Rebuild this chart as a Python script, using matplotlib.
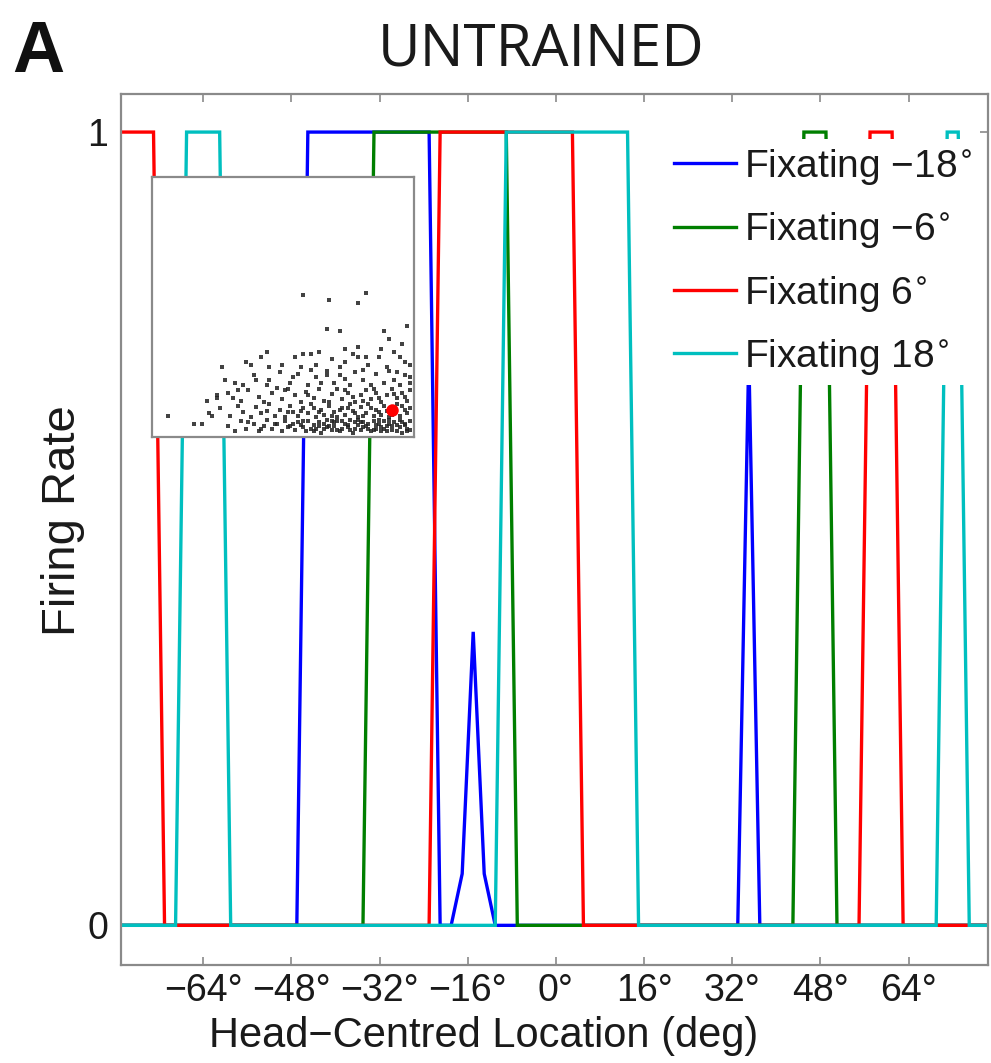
import numpy as np
import matplotlib
matplotlib.use("Agg")
import matplotlib.pyplot as plt

plt.rcParams['font.family'] = ['Liberation Sans', 'DejaVu Sans']

# ---------------- data ----------------
# head-centred locations (deg), sampled every 2 deg
locations = list(range(-79, 80, 2))

fix_m18 = [0, 0, 0, 0, 0, 0, 0, 0, 0, 0,
           0, 0, 0, 0, 0, 0, 0, 1, 1, 1,
           1, 1, 1, 1, 1, 1, 1, 1, 1, 0,
           0, 0.065, 0.37, 0.065, 0, 0, 0, 0, 0, 0,
           0, 0, 0, 0, 0, 0, 0, 0, 0, 0,
           0, 0, 0, 0, 0, 0, 0, 0.72, 0, 0,
           0, 0, 0, 0, 0, 0, 0, 0, 0, 0,
           0, 0, 0, 0, 0, 0, 0, 0, 0, 0]

fix_m6 = [0, 0, 0, 0, 0, 0, 0, 0, 0, 0,
          0, 0, 0, 0, 0, 0, 0, 0, 0, 0,
          0, 0, 0, 1, 1, 1, 1, 1, 1, 1,
          1, 1, 1, 1, 1, 1, 0, 0, 0, 0,
          0, 0, 0, 0, 0, 0, 0, 0, 0, 0,
          0, 0, 0, 0, 0, 0, 0, 0, 0, 0,
          0, 0, 1, 1, 1, 0, 0, 0, 0, 0,
          0, 0, 0, 0, 0, 0, 0, 0, 0, 0]

fix_p6 = [1, 1, 1, 1, 0, 0, 0, 0, 0, 0,
          0, 0, 0, 0, 0, 0, 0, 0, 0, 0,
          0, 0, 0, 0, 0, 0, 0, 0, 0, 1,
          1, 1, 1, 1, 1, 1, 1, 1, 1, 1,
          1, 1, 0, 0, 0, 0, 0, 0, 0, 0,
          0, 0, 0, 0, 0, 0, 0, 0, 0, 0,
          0, 0, 0, 0, 0, 0, 0, 0, 1, 1,
          1, 0, 0, 0, 0, 0, 0, 0, 0, 0]

fix_p18 = [0, 0, 0, 0, 0, 0, 1, 1, 1, 1,
           0, 0, 0, 0, 0, 0, 0, 0, 0, 0,
           0, 0, 0, 0, 0, 0, 0, 0, 0, 0,
           0, 0, 0, 0, 0, 1, 1, 1, 1, 1,
           1, 1, 1, 1, 1, 1, 1, 0, 0, 0,
           0, 0, 0, 0, 0, 0, 0, 0, 0, 0,
           0, 0, 0, 0, 0, 0, 0, 0, 0, 0,
           0, 0, 0, 0, 0, 1, 1, 0, 0, 0]

series_labels = ["Fixating \u221218$^{\\circ}$", "Fixating \u22126$^{\\circ}$",
                 "Fixating 6$^{\\circ}$", "Fixating 18$^{\\circ}$"]
series_colors = ["#0000ff", "#007f00", "#ff0000", "#00bfbf"]

xtick_vals = [-64, -48, -32, -16, 0, 16, 32, 48, 64]
xtick_labels = ["\u221264\u00b0", "\u221248\u00b0", "\u221232\u00b0", "\u221216\u00b0",
                "0\u00b0", "16\u00b0", "32\u00b0", "48\u00b0", "64\u00b0"]
ytick_vals = [0, 1]
ytick_labels = ["0", "1"]

# inset scatter (normalised inset coordinates)
inset_points = [
    # densest bottom band
    (0.29, 0.03), (0.32, 0.01), (0.34, 0.05), (0.36, 0.02), (0.39, 0.04), (0.41, 0.01),
    (0.43, 0.03), (0.44, 0.055), (0.46, 0.02), (0.48, 0.04), (0.50, 0.01), (0.51, 0.05),
    (0.53, 0.03), (0.55, 0.015), (0.56, 0.045), (0.58, 0.025), (0.59, 0.01), (0.60, 0.05),
    (0.62, 0.035), (0.63, 0.02), (0.65, 0.005), (0.66, 0.04), (0.67, 0.055), (0.69, 0.015),
    (0.70, 0.03), (0.71, 0.05), (0.72, 0.01), (0.74, 0.04), (0.75, 0.025), (0.76, 0.055),
    (0.77, 0.005), (0.79, 0.035), (0.80, 0.015), (0.81, 0.045), (0.82, 0.03), (0.84, 0.01),
    (0.85, 0.05), (0.86, 0.02), (0.87, 0.04), (0.88, 0.01), (0.90, 0.03), (0.91, 0.055),
    (0.92, 0.015), (0.93, 0.045), (0.95, 0.025), (0.96, 0.005), (0.97, 0.04), (0.98, 0.02),
    (0.99, 0.05),
    (0.61, 0.02), (0.64, 0.045), (0.68, 0.03), (0.71, 0.015), (0.73, 0.05), (0.78, 0.02),
    (0.80, 0.045), (0.83, 0.02), (0.86, 0.035), (0.89, 0.05), (0.92, 0.03), (0.94, 0.01),
    (0.97, 0.035), (0.99, 0.015), (0.75, 0.035), (0.57, 0.035), (0.52, 0.025), (0.47, 0.04),
    (0.66, 0.02), (0.88, 0.025),
    (0.37, 0.045), (0.42, 0.02), (0.54, 0.04), (0.58, 0.05), (0.62, 0.01), (0.67, 0.025),
    (0.70, 0.045), (0.73, 0.02), (0.76, 0.015), (0.78, 0.045), (0.81, 0.025), (0.83, 0.04),
    (0.85, 0.015), (0.87, 0.055), (0.90, 0.01), (0.91, 0.04), (0.94, 0.035), (0.96, 0.045),
    (0.98, 0.01), (0.95, 0.055), (0.89, 0.02), (0.79, 0.055), (0.69, 0.05), (0.64, 0.03),
    # second band
    (0.22, 0.08), (0.26, 0.10), (0.30, 0.07), (0.33, 0.11), (0.35, 0.085), (0.38, 0.065),
    (0.40, 0.105), (0.42, 0.08), (0.45, 0.115), (0.47, 0.07), (0.49, 0.095), (0.51, 0.065),
    (0.53, 0.11), (0.54, 0.085), (0.56, 0.07), (0.58, 0.10), (0.60, 0.08), (0.61, 0.115),
    (0.63, 0.065), (0.65, 0.095), (0.66, 0.075), (0.68, 0.11), (0.70, 0.085), (0.71, 0.065),
    (0.73, 0.10), (0.74, 0.075), (0.76, 0.115), (0.77, 0.09), (0.79, 0.065), (0.80, 0.105),
    (0.82, 0.08), (0.83, 0.115), (0.85, 0.07), (0.86, 0.095), (0.88, 0.075), (0.89, 0.11),
    (0.91, 0.065), (0.93, 0.09), (0.95, 0.07), (0.96, 0.11), (0.98, 0.08), (0.99, 0.10),
    (0.64, 0.085), (0.72, 0.095), (0.81, 0.07), (0.87, 0.085), (0.94, 0.115), (0.57, 0.09),
    (0.62, 0.1), (0.69, 0.07), (0.75, 0.1), (0.78, 0.08), (0.84, 0.1), (0.90, 0.09),
    (0.92, 0.075), (0.97, 0.095), (0.44, 0.09), (0.52, 0.085),
    # third band
    (0.25, 0.14), (0.29, 0.16), (0.34, 0.13), (0.37, 0.17), (0.41, 0.145), (0.43, 0.125),
    (0.46, 0.16), (0.50, 0.135), (0.52, 0.175), (0.55, 0.15), (0.57, 0.125), (0.59, 0.165),
    (0.62, 0.14), (0.64, 0.175), (0.66, 0.13), (0.69, 0.155), (0.71, 0.175), (0.73, 0.135),
    (0.75, 0.16), (0.78, 0.125), (0.80, 0.15), (0.82, 0.17), (0.84, 0.135), (0.86, 0.16),
    (0.88, 0.125), (0.90, 0.15), (0.92, 0.175), (0.94, 0.14), (0.96, 0.16), (0.98, 0.13),
    (0.99, 0.17), (0.68, 0.125), (0.77, 0.145), (0.85, 0.175),
    (0.60, 0.15), (0.74, 0.17), (0.81, 0.13), (0.87, 0.14), (0.93, 0.155), (0.97, 0.145),
    # fourth band
    (0.32, 0.20), (0.39, 0.23), (0.44, 0.19), (0.49, 0.24), (0.53, 0.20), (0.56, 0.235),
    (0.60, 0.19), (0.63, 0.22), (0.67, 0.245), (0.70, 0.20), (0.72, 0.23), (0.76, 0.19),
    (0.78, 0.24), (0.81, 0.21), (0.84, 0.19), (0.86, 0.235), (0.89, 0.20), (0.91, 0.245),
    (0.93, 0.21), (0.95, 0.19), (0.97, 0.23), (0.99, 0.20), (0.65, 0.20), (0.74, 0.215),
    # fifth band
    (0.36, 0.28), (0.42, 0.30), (0.50, 0.27), (0.55, 0.30), (0.63, 0.27), (0.69, 0.29),
    (0.72, 0.26), (0.77, 0.31), (0.83, 0.27), (0.87, 0.30), (0.90, 0.26), (0.95, 0.30),
    (0.99, 0.27), (0.81, 0.25),
    # sparse outliers
    (0.06, 0.07), (0.16, 0.04), (0.19, 0.04), (0.21, 0.13), (0.23, 0.07), (0.25, 0.15),
    (0.27, 0.26), (0.28, 0.21), (0.31, 0.14), (0.33, 0.17), (0.35, 0.19), (0.38, 0.27),
    (0.40, 0.21), (0.44, 0.32), (0.45, 0.26), (0.45, 0.21), (0.48, 0.18), (0.51, 0.17),
    (0.54, 0.22), (0.57, 0.26), (0.58, 0.54), (0.58, 0.31), (0.61, 0.31), (0.61, 0.25),
    (0.64, 0.32), (0.67, 0.41), (0.68, 0.52), (0.67, 0.23), (0.72, 0.40), (0.74, 0.33),
    (0.74, 0.28), (0.79, 0.34), (0.79, 0.51), (0.82, 0.55), (0.79, 0.30), (0.82, 0.30),
    (0.88, 0.33), (0.89, 0.40), (0.91, 0.37), (0.98, 0.42), (0.96, 0.35), (0.93, 0.32),
    (0.97, 0.28), (0.99, 0.22), (0.94, 0.24),
]
highlight_point = (0.92, 0.094)

# ---------------- figure ----------------
W, H = 991, 1063
fig = plt.figure(figsize=(W / 100, H / 100), dpi=100)
ax = fig.add_axes([121 / W, 1 - 965 / H, 867 / W, 871 / H])

series = [fix_m18, fix_m6, fix_p6, fix_p18]
handles = []
for vals, col, lab in zip(series, series_colors, series_labels):
    h, = ax.plot(locations, vals, color=col, lw=2.4, label=lab,
                 solid_joinstyle='miter')
    handles.append(h)

ax.set_xlim(-78.9, 78.4)
ax.set_ylim(-0.05, 1.048)
ax.set_xticks(xtick_vals)
ax.set_xticklabels(xtick_labels)
ax.set_yticks(ytick_vals)
ax.set_yticklabels(ytick_labels)

spine_col = '#8a8a8a'
for s in ax.spines.values():
    s.set_color(spine_col)
    s.set_linewidth(1.6)
ax.tick_params(axis='both', direction='in', length=6, width=1.2, color=spine_col,
               labelsize=27, labelcolor='#1a1a1a', top=True, right=True)
ax.tick_params(axis='x', pad=6)
ax.tick_params(axis='y', pad=9)

ax.set_xlabel("Head\u2212Centred Location (deg)", fontsize=30, color='#1a1a1a')
ax.xaxis.set_label_coords(0.418, -0.058)
ax.set_ylabel("Firing Rate", fontsize=34, color='#1a1a1a')
ax.yaxis.set_label_coords(-0.042, 0.51)

leg = ax.legend(handles=handles, loc='upper right', bbox_to_anchor=(0.99, 0.948),
                fontsize=28, frameon=True, fancybox=False, facecolor='white',
                edgecolor='none', framealpha=1.0, handlelength=1.6,
                handletextpad=0.2, labelspacing=0.6, borderpad=0.2,
                borderaxespad=0.0)
for t in leg.get_texts():
    t.set_color('#1a1a1a')
for ln in leg.get_lines():
    ln.set_linewidth(2.4)

# title and panel letter
fig.text(541 / W, 1 - 50 / H, "UNTRAINED", fontfamily=['Open Sans', 'DejaVu Sans'],
         fontsize=42, ha='center', va='center', color='#1a1a1a')
fig.text(38 / W, 1 - 53 / H, "A", fontsize=52, fontweight='bold',
         ha='center', va='center', color='#111111')

# inset
axin = fig.add_axes([152 / W, 1 - 437 / H, 262 / W, 260 / H])
px = [p[0] for p in inset_points]
py = [p[1] for p in inset_points]
axin.plot(px, py, 's', ms=3.0, mew=0, mfc='#222222', alpha=0.85)
axin.plot([highlight_point[0]], [highlight_point[1]], 'o', ms=9, mew=0, mfc='#ff0000')
axin.set_xlim(0, 1.005)
axin.set_ylim(-0.012, 1.0)
axin.set_xticks([])
axin.set_yticks([])
axin.set_facecolor('white')
for s in axin.spines.values():
    s.set_color(spine_col)
    s.set_linewidth(1.6)

fig.savefig("out.png", dpi=100)
